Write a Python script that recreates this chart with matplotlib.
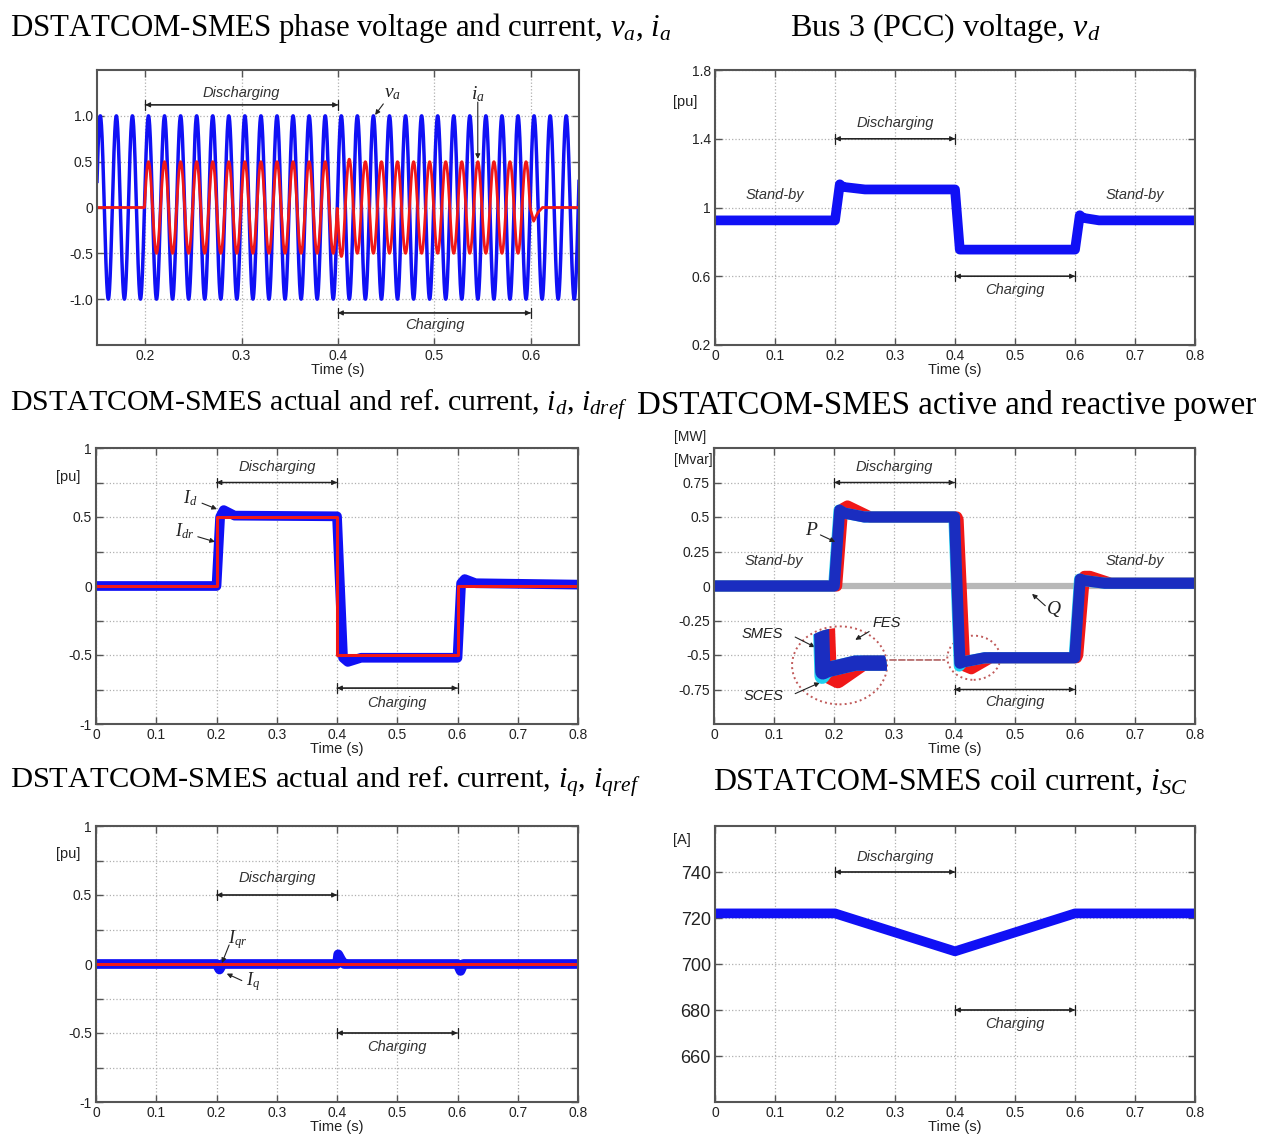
import matplotlib.pyplot as plt
import numpy as np
from matplotlib.patches import Ellipse

plt.rcParams['font.family'] = ['Liberation Sans', 'DejaVu Sans']
plt.rcParams['mathtext.fontset'] = 'custom'
plt.rcParams['mathtext.rm'] = 'Liberation Serif'
plt.rcParams['mathtext.it'] = 'Liberation Serif:italic'

# ---- panel 1: phase voltage / current (60 Hz) ----
FREQ = 60.0
V_PEAK = 1.0
V_PEAK_T = 0.0034           # time offset of a voltage crest
ia_env_t = [0.1992, 0.4, 0.405, 0.42, 0.5992]
ia_env = [0.5, 0.5, 0.55, 0.5, 0.5]
IA_SWITCH = 0.3992          # current reverses phase (charging)
ia_tail_t = [0.5992, 0.603, 0.607, 0.612, 0.65]
ia_tail = [0.0, -0.15, -0.06, 0.0, 0.0]

# ---- panel 2: bus 3 voltage ----
vd_t = [0, 0.2, 0.208, 0.213, 0.25, 0.4, 0.408, 0.6, 0.608, 0.613, 0.64, 0.8]
vd = [0.925, 0.925, 1.135, 1.12, 1.105, 1.105, 0.755, 0.755, 0.955, 0.94, 0.925, 0.925]

# ---- panel 3: d-axis current ----
id_t = [0, 0.2, 0.206, 0.212, 0.23, 0.4, 0.41, 0.418, 0.44, 0.6, 0.606, 0.612, 0.63, 0.8]
id_act = [0.0, 0.0, 0.5, 0.55, 0.51, 0.505, -0.52, -0.55, -0.52, -0.52, 0.02, 0.05, 0.02, 0.01]
idref_t = [0, 0.2, 0.2, 0.4, 0.4, 0.6, 0.6, 0.8]
idref = [0, 0, 0.5, 0.5, -0.5, -0.5, 0, 0]

# ---- panel 4: active / reactive power ----
smes_t = [0, 0.2, 0.209, 0.215, 0.25, 0.4, 0.409, 0.415, 0.45, 0.6, 0.609, 0.615, 0.65, 0.8]
smes_p = [0, 0, 0.55, 0.53, 0.5, 0.5, -0.56, -0.55, -0.52, -0.52, 0.05, 0.04, 0.02, 0.02]
sces_t = [0, 0.199, 0.208, 0.214, 0.25, 0.399, 0.408, 0.414, 0.45, 0.599, 0.608, 0.614, 0.65, 0.8]
sces_p = [0, 0, 0.55, 0.53, 0.5, 0.5, -0.58, -0.55, -0.52, -0.52, 0.05, 0.04, 0.02, 0.02]
fes_t = [0, 0.204, 0.214, 0.222, 0.26, 0.404, 0.406, 0.417, 0.428, 0.46, 0.603, 0.605, 0.616, 0.625, 0.66, 0.8]
fes_p = [0, 0, 0.56, 0.58, 0.5, 0.5, 0.48, -0.58, -0.6, -0.52, -0.52, -0.5, 0.07, 0.07, 0.02, 0.02]
q_t = [0, 0.8]
q = [0.0, 0.0]

# ---- panel 5: q-axis current ----
iq_t = [0, 0.2, 0.205, 0.21, 0.4, 0.402, 0.407, 0.412, 0.6, 0.605, 0.61, 0.8]
iq = [0, 0, -0.04, 0, 0, 0.07, 0.03, 0, 0, -0.05, 0, 0]
iqref_t = [0, 0.8]
iqref = [0, 0]

# ---- panel 6: coil current ----
isc_t = [0, 0.2, 0.4, 0.6, 0.8]
isc = [722, 722, 705.5, 722, 722]

BLUE = '#1010f5'
DBLUE = '#1a2dc0'
CYAN = '#20d0f0'
RED = '#f01818'
TXT = '#333333'
W, H = 1265, 1134

fig = plt.figure(figsize=(W / 100, H / 100), dpi=100)


def add_ax(left, top, right, bottom):
    return fig.add_axes([left / W, 1 - bottom / H, (right - left) / W, (bottom - top) / H])


def setup(ax, xlim, ylim, xticks, yticks, ylabels, minor_y=None, ysize=10):
    ax.set_xlim(xlim)
    ax.set_ylim(ylim)
    ax.set_xticks(xticks, [('0' if x == 0 else f'{x:g}') for x in xticks])
    ax.set_yticks(yticks, ylabels)
    if minor_y is not None:
        ax.set_yticks(minor_y, minor=True)
    ax.tick_params(direction='in', top=True, right=True, length=5, width=1,
                   color='#555', labelcolor='#222', labelsize=10, pad=3)
    ax.tick_params(axis='y', labelsize=ysize)
    ax.tick_params(which='minor', direction='in', right=True, length=5, width=1, color='#555')
    ax.grid(True, which='both', linestyle=':', color='#b0b0b0', lw=0.9)
    for s in ax.spines.values():
        s.set_color('#555')
        s.set_linewidth(1.5)
    ax.set_xlabel('Time (s)', fontsize=10.5, labelpad=0, color='#222')


def span(ax, x0, x1, y, label, ty, bar=0.35):
    # double arrow with end bars + italic label
    ax.annotate('', xy=(x1, y), xytext=(x0, y),
                arrowprops=dict(arrowstyle='<|-|>', color='#222', lw=0.9,
                                mutation_scale=7, shrinkA=0, shrinkB=0))
    ax.annotate('', xy=(x1, y), xytext=(x0, y),
                arrowprops=dict(arrowstyle=f'|-|,widthA={bar},widthB={bar}', color='#222',
                                lw=0.9, shrinkA=0, shrinkB=0))
    ax.text((x0 + x1) / 2, ty, label, style='italic', ha='center', va='center',
            fontsize=10.5, color=TXT)


def pointer(ax, label, tip, start, tpos, size=14, italic=False):
    ax.annotate('', xy=tip, xytext=start,
                arrowprops=dict(arrowstyle='-|>', color='#222', lw=0.8, mutation_scale=7,
                                shrinkA=0, shrinkB=0))
    ax.text(tpos[0], tpos[1], label, fontsize=size, color='#222', ha='center', va='center',
            style='italic' if italic else 'normal')


def label_at(ax, x, y, s, size=10.5):
    ax.text(x, y, s, transform=ax.transAxes, fontsize=size, color='#222', va='center')


xt8 = [0, 0.1, 0.2, 0.3, 0.4, 0.5, 0.6, 0.7, 0.8]

# ---------------- panel 1 ----------------
ax1 = add_ax(97, 70, 579, 345)
t = np.linspace(0.15, 0.65, 4000)
theta = 2 * np.pi * FREQ * (t - V_PEAK_T)
va = V_PEAK * np.cos(theta)
sign = np.where(t < IA_SWITCH, 1.0, -1.0)
ia = sign * np.interp(t, ia_env_t, ia_env, left=0, right=0) * np.cos(theta)
tail = t >= ia_tail_t[0]
ia[tail] = np.interp(t[tail], ia_tail_t, ia_tail)
ax1.plot(t, va, color=BLUE, lw=2.5)
ax1.plot(t, ia, color=RED, lw=2)
setup(ax1, (0.15, 0.65), (-1.5, 1.5), [0.2, 0.3, 0.4, 0.5, 0.6],
      [-1, -0.5, 0, 0.5, 1], ['-1.0', '-0.5', '0', '0.5', '1.0'])
span(ax1, 0.2, 0.4, 1.12, 'Discharging', 1.25)
span(ax1, 0.4, 0.6, -1.15, 'Charging', -1.28)
pointer(ax1, '$v_a$', (0.4385, 1.01), (0.447, 1.13), (0.457, 1.24))
pointer(ax1, '$i_a$', (0.545, 0.53), (0.545, 1.15), (0.545, 1.24))

# ---------------- panel 2 ----------------
ax2 = add_ax(715, 70, 1195, 345)
ax2.plot(vd_t, vd, color=BLUE, lw=7)
setup(ax2, (0, 0.8), (0.2, 1.8), xt8, [0.2, 0.6, 1.0, 1.4, 1.8], ['0.2', '0.6', '1', '1.4', '1.8'])
span(ax2, 0.2, 0.4, 1.4, 'Discharging', 1.49)
span(ax2, 0.4, 0.6, 0.6, 'Charging', 0.52)
ax2.text(0.1, 1.07, 'Stand-by', style='italic', ha='center', va='center', fontsize=10.5, color=TXT)
ax2.text(0.7, 1.07, 'Stand-by', style='italic', ha='center', va='center', fontsize=10.5, color=TXT)
label_at(ax2, -0.088, 0.885, '[pu]')

# ---------------- panel 3 ----------------
ax3 = add_ax(96, 448, 578, 724)
ax3.plot(id_t, id_act, color=BLUE, lw=7)
ax3.plot(idref_t, idref, color=RED, lw=2.2)
setup(ax3, (0, 0.8), (-1, 1), xt8, [-1, -0.5, 0, 0.5, 1], ['-1', '-0.5', '0', '0.5', '1'],
      minor_y=[-0.75, -0.25, 0.25, 0.75])
span(ax3, 0.2, 0.4, 0.75, 'Discharging', 0.86)
span(ax3, 0.4, 0.6, -0.74, 'Charging', -0.85)
pointer(ax3, '$I_d$', (0.2008, 0.557), (0.176, 0.6), (0.157, 0.64), 13)
pointer(ax3, '$I_{dr}$', (0.1975, 0.32), (0.169, 0.357), (0.147, 0.4), 13)
label_at(ax3, -0.083, 0.895, '[pu]')

# ---------------- panel 4 ----------------
ax4 = add_ax(714, 448, 1195, 724)
ax4.plot(q_t, q, color='#b8b8b8', lw=4.5)
ax4.plot(fes_t, fes_p, color=RED, lw=8)
ax4.plot(sces_t, sces_p, color=CYAN, lw=8)
ax4.plot(smes_t, smes_p, color=DBLUE, lw=8)
setup(ax4, (0, 0.8), (-1, 1), xt8, [-0.75, -0.5, -0.25, 0, 0.25, 0.5, 0.75],
      ['-0.75', '-0.5', '-0.25', '0', '0.25', '0.5', '0.75'])
span(ax4, 0.2, 0.4, 0.75, 'Discharging', 0.86)
span(ax4, 0.4, 0.6, -0.75, 'Charging', -0.84)
ax4.text(0.1, 0.18, 'Stand-by', style='italic', ha='center', va='center', fontsize=10.5, color=TXT)
ax4.text(0.7, 0.18, 'Stand-by', style='italic', ha='center', va='center', fontsize=10.5, color=TXT)
pointer(ax4, '$P$', (0.2015, 0.32), (0.177, 0.37), (0.163, 0.4), 14)
pointer(ax4, '$Q$', (0.529, -0.057), (0.551, -0.143), (0.566, -0.165), 14)
label_at(ax4, -0.083, 1.04, '[MW]', 10)
label_at(ax4, -0.083, 0.955, '[Mvar]', 10)
# zoom circles
ax4.add_patch(Ellipse((0.2088, -0.575), 0.158, 0.565, fill=False, ec='#c05a5a', ls=':', lw=1.4))
ax4.add_patch(Ellipse((0.432, -0.52), 0.088, 0.32, fill=False, ec='#c05a5a', ls=':', lw=1.4))
ax4.annotate('', xy=(0.388, -0.536), xytext=(0.288, -0.536),
             arrowprops=dict(arrowstyle='-', ls='--', color='#b06060', lw=1.2))
pointer(ax4, 'SMES', (0.168, -0.443), (0.135, -0.37), (0.08, -0.35), 10.5, italic=True)
pointer(ax4, 'FES', (0.235, -0.39), (0.258, -0.33), (0.288, -0.27), 10.5, italic=True)
pointer(ax4, 'SCES', (0.176, -0.70), (0.135, -0.78), (0.083, -0.8), 10.5, italic=True)
# magnified inset clipped to the big circle
axi = add_ax(792, 628, 887, 707)
axi.set_xlim(0.37, 0.49)
axi.set_ylim(-0.72, -0.36)
axi.axis('off')
clip = Ellipse((0.5, 0.5), 1, 1, transform=axi.transAxes)
for tt, pp, cc in [(fes_t, fes_p, RED), (sces_t, sces_p, CYAN), (smes_t, smes_p, DBLUE)]:
    ln, = axi.plot(tt, pp, color=cc, lw=11)
    ln.set_clip_path(clip)

# ---------------- panel 5 ----------------
ax5 = add_ax(96, 826, 578, 1102)
ax5.plot(iq_t, iq, color=BLUE, lw=7)
ax5.plot(iqref_t, iqref, color=RED, lw=2.2)
setup(ax5, (0, 0.8), (-1, 1), xt8, [-1, -0.5, 0, 0.5, 1], ['-1', '-0.5', '0', '0.5', '1'],
      minor_y=[-0.75, -0.25, 0.25, 0.75])
span(ax5, 0.2, 0.4, 0.5, 'Discharging', 0.62)
span(ax5, 0.4, 0.6, -0.5, 'Charging', -0.6)
pointer(ax5, '$I_{qr}$', (0.209, 0.007), (0.221, 0.138), (0.235, 0.18), 13)
pointer(ax5, '$I_q$', (0.217, -0.07), (0.242, -0.12), (0.26, -0.13), 13)
label_at(ax5, -0.083, 0.9, '[pu]')

# ---------------- panel 6 ----------------
ax6 = add_ax(715, 826, 1195, 1102)
ax6.plot(isc_t, isc, color=BLUE, lw=7)
setup(ax6, (0, 0.8), (640, 760), xt8, [660, 680, 700, 720, 740],
      ['660', '680', '700', '720', '740'], ysize=13)
span(ax6, 0.2, 0.4, 740, 'Discharging', 746.5)
span(ax6, 0.4, 0.6, 680, 'Charging', 674)
label_at(ax6, -0.088, 0.95, '[A]')

# ---------------- titles (fitted to the widths seen in the figure) ----------------
titles = [
    (10, 672, 28, 'DSTATCOM-SMES phase voltage and current, $v_a$, $i_a$'),
    (790, 1100, 28, 'Bus 3 (PCC) voltage, $v_d$'),
    (10, 626, 405, 'DSTATCOM-SMES actual and ref. current, $i_d$, $i_{dref}$'),
    (637, 1255, 405, 'DSTATCOM-SMES active and reactive power'),
    (10, 640, 782, 'DSTATCOM-SMES actual and ref. current, $i_q$, $i_{qref}$'),
    (713, 1188, 782, 'DSTATCOM-SMES coil current, $i_{SC}$'),
]
objs = []
for x0, x1, y, s in titles:
    objs.append(fig.text(x0 / W, 1 - y / H, s, ha='left', va='center', fontsize=20,
                         family='Liberation Serif', color='black'))
renderer = fig.canvas.get_renderer()
for (x0, x1, y, s), tx in zip(titles, objs):
    w = tx.get_window_extent(renderer).width
    tx.set_fontsize(20 * (x1 - x0) / w)

fig.savefig('out.png', dpi=100)
